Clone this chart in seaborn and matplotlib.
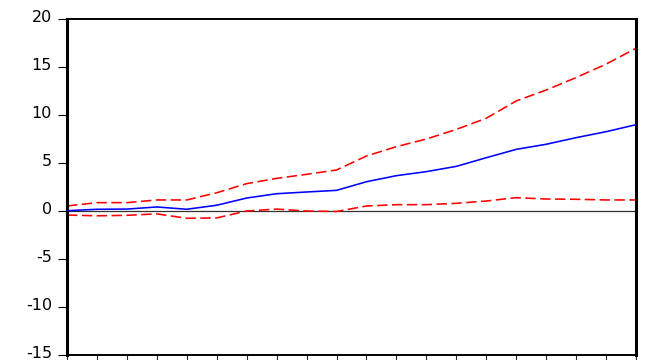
import matplotlib
matplotlib.use("Agg")
import matplotlib.pyplot as plt
import matplotlib.transforms as mtransforms
import seaborn as sns
import pandas as pd

# Impulse response with +/- 2 S.E. bands over 20 periods
periods = list(range(1, 21))
response = [0.03, 0.18, 0.20, 0.42, 0.18, 0.60, 1.35, 1.80, 1.98, 2.15,
            3.05, 3.68, 4.10, 4.65, 5.55, 6.42, 6.95, 7.64, 8.26, 8.99]
upper_band = [0.52, 0.87, 0.87, 1.15, 1.15, 1.90, 2.85, 3.40, 3.82, 4.27,
              5.73, 6.70, 7.50, 8.50, 9.66, 11.46, 12.60, 13.90, 15.30, 16.95]
lower_band = [-0.42, -0.50, -0.45, -0.30, -0.76, -0.72, 0.00, 0.20, 0.00, -0.05,
              0.52, 0.66, 0.66, 0.80, 1.04, 1.39, 1.25, 1.22, 1.15, 1.15]
y_ticks = [-15, -10, -5, 0, 5, 10, 15, 20]

sns.set_style("ticks")
plt.rcParams["font.family"] = ["DejaVu Sans"]

df = pd.DataFrame({"period": periods, "response": response,
                   "upper": upper_band, "lower": lower_band})

fig = plt.figure(figsize=(6.56, 3.6), dpi=100)
ax = fig.add_axes([67 / 656, 1 - 355 / 360, (636 - 67) / 656, (355 - 19) / 360])

ax.axhline(0, color="#333333", lw=0.9, zorder=1)

sns.lineplot(data=df, x="period", y="response", ax=ax, color="#0000ff",
             lw=1.15, zorder=3)
for col in ["upper", "lower"]:
    sns.lineplot(data=df, x="period", y=col, ax=ax, color="#ff0000",
                 lw=1.15, zorder=2).lines[-1].set_dashes([6.5, 2.8])

ax.set_xlim(1, 20)
ax.set_ylim(-15, 20)
ax.set_xticks(periods)
ax.set_xticklabels([])
ax.set_yticks(y_ticks)
ax.set_yticklabels([str(v) for v in y_ticks])
ax.set_xlabel("")
ax.set_ylabel("")

ax.tick_params(axis="y", direction="out", length=6.5, width=0.8, pad=4.3,
               labelsize=11.5, colors="black")
ax.tick_params(axis="x", direction="out", length=4.5, width=0.8)

# lift the value labels slightly above their ticks
lift = mtransforms.ScaledTranslation(0, 3.5 / 100, fig.dpi_scale_trans)
for lbl in ax.get_yticklabels():
    lbl.set_transform(lbl.get_transform() + lift)

for side, w in {"left": 2.2, "right": 2.2, "top": 1.4, "bottom": 1.4}.items():
    ax.spines[side].set_visible(True)
    ax.spines[side].set_linewidth(w)
    ax.spines[side].set_color("black")

fig.savefig("out.png", dpi=100)
